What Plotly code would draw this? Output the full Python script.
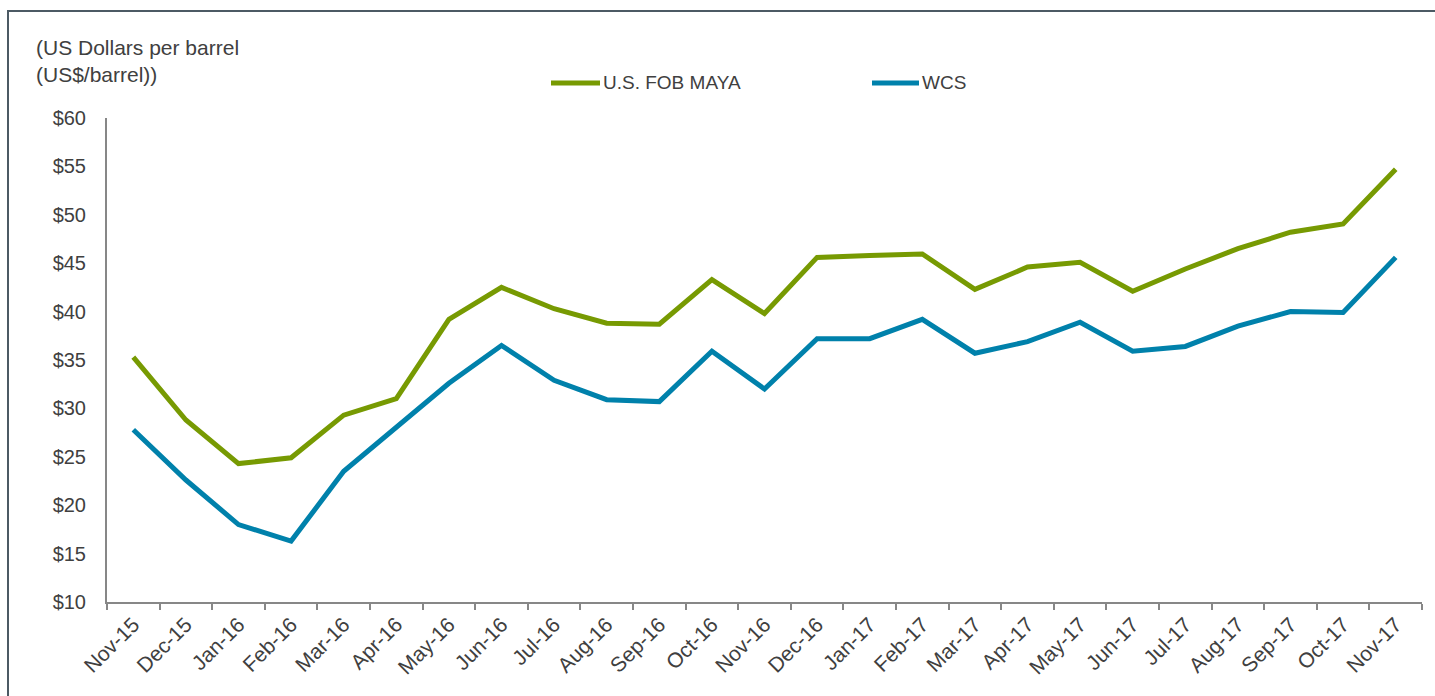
import plotly.graph_objects as go

months = ["Nov-15", "Dec-15", "Jan-16", "Feb-16", "Mar-16", "Apr-16", "May-16",
          "Jun-16", "Jul-16", "Aug-16", "Sep-16", "Oct-16", "Nov-16", "Dec-16",
          "Jan-17", "Feb-17", "Mar-17", "Apr-17", "May-17", "Jun-17", "Jul-17",
          "Aug-17", "Sep-17", "Oct-17", "Nov-17"]

maya_name = "U.S. FOB MAYA"
maya = [35.3, 28.8, 24.3, 24.9, 29.3, 31.0, 39.2, 42.5, 40.3, 38.8, 38.7, 43.3,
        39.8, 45.6, 45.8, 45.95, 42.3, 44.6, 45.1, 42.1, 44.4, 46.5, 48.2, 49.05,
        54.7]

wcs_name = "WCS"
wcs = [27.8, 22.6, 18.0, 16.3, 23.5, 28.1, 32.6, 36.5, 32.9, 30.9, 30.7, 35.9,
       32.0, 37.2, 37.2, 39.2, 35.7, 36.9, 38.9, 35.9, 36.4, 38.5, 40.0, 39.9,
       45.6]

y_ticks = [10, 15, 20, 25, 30, 35, 40, 45, 50, 55, 60]

GREEN = "#779a02"
BLUE = "#0081ab"
TEXT = "#404040"
AXIS = "#878787"
FONT = "Liberation Sans, Arial, sans-serif"

W, H = 1435, 696
L, R, T, B = 107, 13, 118, 94
pw, ph = W - L - R, H - T - B


def px_x(px):
    return (px - L) / pw


def px_y(py):
    return (H - B - py) / ph


fig = go.Figure()
for name, vals, col in [(maya_name, maya, GREEN), (wcs_name, wcs, BLUE)]:
    fig.add_trace(go.Scatter(
        x=months, y=vals, name=name, mode="lines",
        line=dict(color=col, width=5), showlegend=False,
    ))

# legend drawn as short line keys with labels
legend_items = [(maya_name, GREEN, 551, 600), (wcs_name, BLUE, 872, 919)]
shapes = []
annotations = []
for name, col, x0, x1 in legend_items:
    shapes.append(dict(type="line", xref="paper", yref="paper",
                       x0=px_x(x0), x1=px_x(x1), y0=px_y(83), y1=px_y(83),
                       line=dict(color=col, width=5)))
    annotations.append(dict(text=name, xref="paper", yref="paper",
                            x=px_x(x1 + 1), y=px_y(83), xanchor="left",
                            yanchor="middle", showarrow=False,
                            font=dict(size=19, color=TEXT, family=FONT)))

# outer frame
shapes.append(dict(type="rect", xref="paper", yref="paper",
                   x0=px_x(8), x1=px_x(1500), y0=px_y(760), y1=px_y(11),
                   line=dict(color="#4c5a64", width=2), fillcolor="rgba(0,0,0,0)",
                   layer="below"))

annotations.append(dict(text="(US Dollars per barrel<br>(US$/barrel))",
                        xref="paper", yref="paper", x=px_x(34), y=px_y(34),
                        xanchor="left", yanchor="top", align="left",
                        showarrow=False,
                        font=dict(size=21, color=TEXT, family=FONT)))

fig.update_layout(
    width=W, height=H,
    margin=dict(l=L, r=R, t=T, b=B),
    paper_bgcolor="white", plot_bgcolor="white",
    font=dict(family=FONT, size=21, color=TEXT),
    shapes=shapes, annotations=annotations,
    xaxis=dict(
        type="category", range=[-0.5, len(months) - 0.5],
        tickangle=-45, tickson="boundaries", ticks="outside", ticklen=6,
        tickwidth=2, tickcolor=AXIS, showline=True, linecolor=AXIS,
        linewidth=2, showgrid=False, zeroline=False,
        tickfont=dict(size=21, color=TEXT, family=FONT),
    ),
    yaxis=dict(
        range=[10, 60], tickvals=y_ticks,
        ticktext=[f"${v}" for v in y_ticks], ticks="",
        showline=True, linecolor=AXIS, linewidth=2, showgrid=False,
        zeroline=False, ticklabelstandoff=15,
        tickfont=dict(size=20, color=TEXT, family=FONT),
    ),
)

fig.write_html("out.html")
